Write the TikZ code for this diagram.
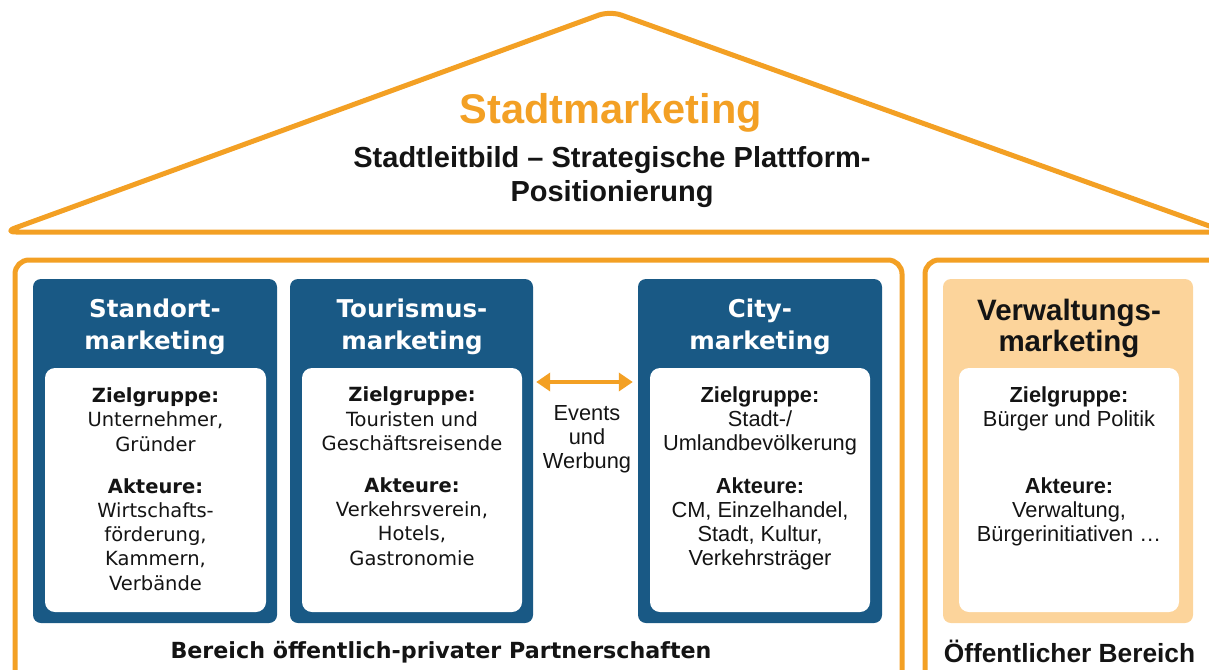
\documentclass[tikz,border=0pt]{standalone}
\usepackage{fontspec}
\setmainfont{DejaVu Sans}
\newfontfamily\arialfam[Ligatures=TeX]{Liberation Sans}
\usetikzlibrary{arrows.meta}
\definecolor{roofor}{RGB}{243,160,36}
\definecolor{deepblue}{RGB}{25,89,133}
\definecolor{paleor}{RGB}{252,212,155}
\definecolor{ink}{RGB}{20,20,20}
\begin{document}
\begin{tikzpicture}[x=1pt,y=-1pt,
  frame/.style={draw=roofor, line width=5pt, rounded corners=14pt},
  bluebox/.style={fill=deepblue, rounded corners=8pt, inner sep=0pt, minimum height=344pt},
  palebox/.style={fill=paleor, rounded corners=8pt, inner sep=0pt, minimum height=344pt},
  whitebox/.style={fill=white, rounded corners=10pt, inner sep=0pt, minimum width=220pt, minimum height=244pt},
  bluetitle/.style={anchor=base, align=center, inner sep=0pt, text=white,
    font=\fontsize{24.5pt}{32pt}\selectfont\bfseries},
  paletitle/.style={anchor=base, align=center, inner sep=0pt, text=ink,
    font=\arialfam\fontsize{29.5pt}{31pt}\selectfont\bfseries},
  wide body/.style={anchor=base, align=center, inner sep=0pt, text=ink,
    font=\fontsize{19.5pt}{24.2pt}\selectfont},
  narrow body/.style={anchor=base, align=center, inner sep=0pt, text=ink,
    font=\arialfam\fontsize{21.8pt}{24pt}\selectfont},
  linkarrow/.style={roofor, line width=4.5pt, {Triangle[length=14pt,width=18pt]}-{Triangle[length=14pt,width=18pt]}}
]
\useasboundingbox (0,0) rectangle (1209,669);
\clip (0,0) rectangle (1209,669);

% roof (multi-line nodes below are placed by the baseline of their last line)
\draw[draw=roofor, line width=5pt, rounded corners=12pt, line join=round]
  (4,232) -- (610,11) -- (1226,232) -- cycle;
\node[anchor=base, inner sep=0pt, text=roofor, font=\arialfam\fontsize{41.5pt}{44pt}\selectfont\bfseries]
  (roof title) at (611,123) {Stadtmarketing};
\node[anchor=base, align=center, inner sep=0pt, text=ink, font=\arialfam\fontsize{29pt}{34pt}\selectfont\bfseries]
  (roof text) at (612,201) {Stadtleitbild – Strategische Plattform-\\Positionierung};

% the two areas below the roof
\draw[frame] (15,690) -- (15,260) -- (902,260) -- (902,690);
\draw[frame] (925,690) -- (925,260) -- (1228,260) -- (1228,690);

% marketing columns
\node[bluebox, minimum width=244pt] (b1) at (155,451) {};
\node[bluebox, minimum width=243pt] (b2) at (411.5,451) {};
\node[bluebox, minimum width=244pt] (b3) at (760,451) {};
\node[palebox, minimum width=250pt] (b4) at (1068,451) {};

\node[whitebox, minimum width=221pt] (w1) at (155.5,490) {};
\node[whitebox] (w2) at (412,490) {};
\node[whitebox] (w3) at (760,490) {};
\node[whitebox] (w4) at (1069,490) {};

\node[bluetitle] (t1) at (155,349) {Standort-\\marketing};
\node[bluetitle] (t2) at (412,349) {Tourismus-\\marketing};
\node[bluetitle] (t3) at (760,349) {City-\\marketing};
\node[paletitle] (t4) at (1069,351) {Verwaltungs-\\marketing};

\node[wide body] (c1) at (155.5,590)
  {\textbf{Zielgruppe:}\\Unternehmer,\\Gründer\\[18pt]\textbf{Akteure:}\\Wirtschafts-\\förderung,\\Kammern,\\Verbände};
\node[wide body] (c2) at (412,565)
  {\textbf{Zielgruppe:}\\Touristen und\\Geschäftsreisende\\[18pt]\textbf{Akteure:}\\Verkehrsverein,\\Hotels,\\Gastronomie};
\node[narrow body] (c3) at (760,565)
  {\textbf{Zielgruppe:}\\Stadt-/\\Umlandbevölkerung\\[19pt]\textbf{Akteure:}\\CM, Einzelhandel,\\Stadt, Kultur,\\Verkehrsträger};
\node[narrow body] (c4) at (1069,541)
  {\textbf{Zielgruppe:}\\Bürger und Politik\\[43pt]\textbf{Akteure:}\\Verwaltung,\\Bürgerinitiativen \dots};

% link between tourism and city marketing
\coordinate (link) at (587,382);
\draw[linkarrow] ([xshift=3pt]b2.east |- link) -- ([xshift=-5pt]b3.west |- link);
\node[narrow body] (events) at (587,468) {Events\\und\\Werbung};

% area captions
\node[anchor=base, inner sep=0pt, text=ink, font=\fontsize{22.2pt}{24pt}\selectfont\bfseries]
  (ppp) at (441,658) {Bereich öffentlich-privater Partnerschaften};
\node[anchor=base, inner sep=0pt, text=ink, font=\arialfam\fontsize{26.3pt}{28pt}\selectfont\bfseries]
  (pub) at (1069.5,662) {Öffentlicher Bereich};
\end{tikzpicture}
\end{document}
